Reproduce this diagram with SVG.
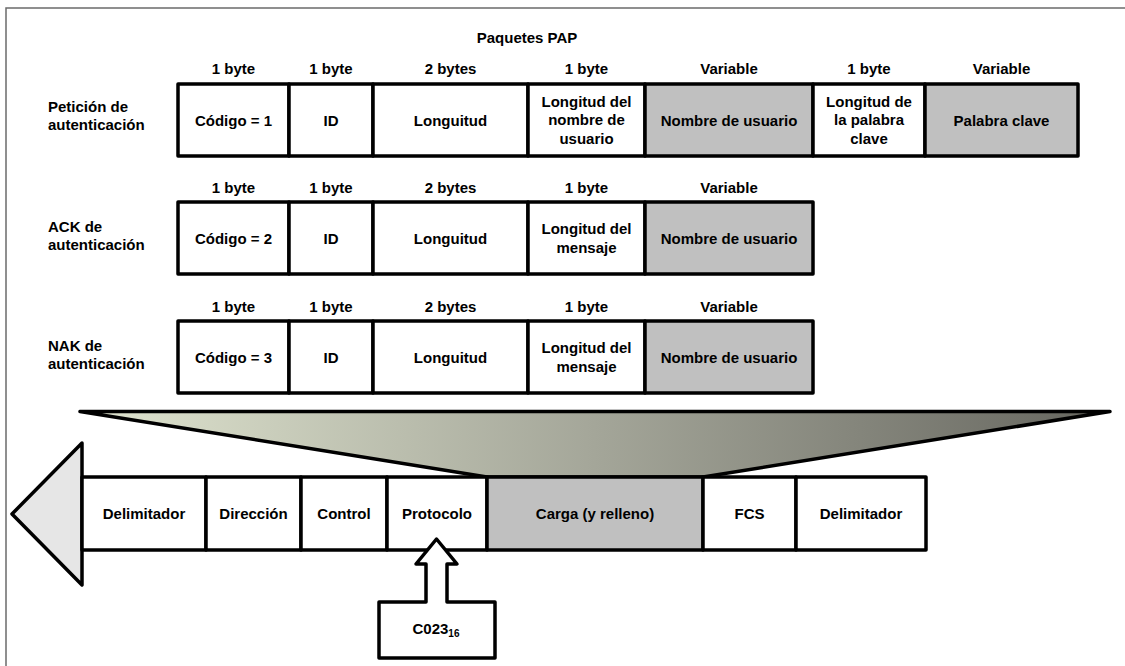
<svg xmlns="http://www.w3.org/2000/svg" width="1125" height="666" viewBox="0 0 1125 666">
  <defs>
    <linearGradient id="zoomFill" x1="80" y1="0" x2="1110" y2="0" gradientUnits="userSpaceOnUse">
      <stop offset="0" stop-color="#e0e5d0"/>
      <stop offset="0.5" stop-color="#a4a699"/>
      <stop offset="1" stop-color="#66665f"/>
    </linearGradient>
    <style>
      .t { font-family: "Liberation Sans", Arial, sans-serif; font-weight: bold; font-size: 15px; fill: #000; text-anchor: middle; }
      .lbl { text-anchor: start; }
      .c { fill: #fff; stroke: #000; stroke-width: 3.5; stroke-linejoin: round; }
      .g { fill: #c0c0c0; stroke: #000; stroke-width: 3.5; stroke-linejoin: round; }
      .frame { fill: none; stroke: #6b6b6b; stroke-width: 1.5; }
    </style>
  </defs>

  <rect width="1125" height="666" fill="#fff"/>
  <!-- outer frame (top and left edges) -->
  <path class="frame" d="M6,666 V8 H1125"/>

  <text class="t" x="527" y="43">Paquetes PAP</text>

  <!-- PAP authentication request -->
  <g id="pap-request">
    <text class="t lbl" x="48" y="112">Petición de</text>
    <text class="t lbl" x="48" y="130">autenticación</text>
    <g class="t">
      <text x="233.5" y="74">1 byte</text>
      <text x="331" y="74">1 byte</text>
      <text x="450.5" y="74">2 bytes</text>
      <text x="586.5" y="74">1 byte</text>
      <text x="729" y="74">Variable</text>
      <text x="869" y="74">1 byte</text>
      <text x="1001.5" y="74">Variable</text>
    </g>
    <rect class="c" x="178" y="84" width="111" height="72"/>
    <rect class="c" x="289" y="84" width="84" height="72"/>
    <rect class="c" x="373" y="84" width="155" height="72"/>
    <rect class="c" x="528" y="84" width="117" height="72"/>
    <rect class="g" x="645" y="84" width="168" height="72"/>
    <rect class="c" x="813" y="84" width="112" height="72"/>
    <rect class="g" x="925" y="84" width="153" height="72"/>
    <g class="t">
      <text x="233.5" y="125.5">Código = 1</text>
      <text x="331" y="125.5">ID</text>
      <text x="450.5" y="125.5">Longuitud</text>
      <text x="586.5" y="106.5">Longitud del</text>
      <text x="586.5" y="125">nombre de</text>
      <text x="586.5" y="143.5">usuario</text>
      <text x="729" y="125.5">Nombre de usuario</text>
      <text x="869" y="106.5">Longitud de</text>
      <text x="869" y="125">la palabra</text>
      <text x="869" y="143.5">clave</text>
      <text x="1001.5" y="125.5">Palabra clave</text>
    </g>
  </g>

  <!-- PAP authentication ACK -->
  <g id="pap-ack">
    <text class="t lbl" x="48" y="232">ACK de</text>
    <text class="t lbl" x="48" y="250">autenticación</text>
    <g class="t">
      <text x="233.5" y="193">1 byte</text>
      <text x="331" y="193">1 byte</text>
      <text x="450.5" y="193">2 bytes</text>
      <text x="586.5" y="193">1 byte</text>
      <text x="729" y="193">Variable</text>
    </g>
    <rect class="c" x="178" y="202" width="111" height="72"/>
    <rect class="c" x="289" y="202" width="84" height="72"/>
    <rect class="c" x="373" y="202" width="155" height="72"/>
    <rect class="c" x="528" y="202" width="117" height="72"/>
    <rect class="g" x="645" y="202" width="168" height="72"/>
    <g class="t">
      <text x="233.5" y="243.5">Código = 2</text>
      <text x="331" y="243.5">ID</text>
      <text x="450.5" y="243.5">Longuitud</text>
      <text x="586.5" y="234">Longitud del</text>
      <text x="586.5" y="253">mensaje</text>
      <text x="729" y="243.5">Nombre de usuario</text>
    </g>
  </g>

  <!-- PAP authentication NAK -->
  <g id="pap-nak">
    <text class="t lbl" x="48" y="351">NAK de</text>
    <text class="t lbl" x="48" y="369">autenticación</text>
    <g class="t">
      <text x="233.5" y="312">1 byte</text>
      <text x="331" y="312">1 byte</text>
      <text x="450.5" y="312">2 bytes</text>
      <text x="586.5" y="312">1 byte</text>
      <text x="729" y="312">Variable</text>
    </g>
    <rect class="c" x="178" y="321" width="111" height="72"/>
    <rect class="c" x="289" y="321" width="84" height="72"/>
    <rect class="c" x="373" y="321" width="155" height="72"/>
    <rect class="c" x="528" y="321" width="117" height="72"/>
    <rect class="g" x="645" y="321" width="168" height="72"/>
    <g class="t">
      <text x="233.5" y="362.5">Código = 3</text>
      <text x="331" y="362.5">ID</text>
      <text x="450.5" y="362.5">Longuitud</text>
      <text x="586.5" y="353">Longitud del</text>
      <text x="586.5" y="372">mensaje</text>
      <text x="729" y="362.5">Nombre de usuario</text>
    </g>
  </g>

  <!-- connectors: payload expansion wedge -->
  <g id="connectors">
    <polygon points="80,411.5 1110,411.5 703,477 487,477" fill="url(#zoomFill)" stroke="#000" stroke-width="3.5" stroke-linejoin="round"/>
  </g>

  <!-- PPP frame drawn as a left-pointing arrow -->
  <g id="ppp-frame">
    <polygon class="c" points="82,443 12,514 82,585" style="fill:#e6e6e6"/>
    <rect class="c" x="82" y="477" width="124" height="73"/>
    <rect class="c" x="206" y="477" width="95" height="73"/>
    <rect class="c" x="301" y="477" width="86" height="73"/>
    <rect class="c" x="387" y="477" width="100" height="73"/>
    <rect class="g" x="487" y="477" width="216" height="73"/>
    <rect class="c" x="703" y="477" width="93" height="73"/>
    <rect class="c" x="796" y="477" width="130" height="73"/>
    <g class="t">
      <text x="144" y="518.5">Delimitador</text>
      <text x="253.5" y="518.5">Dirección</text>
      <text x="344" y="518.5">Control</text>
      <text x="437" y="518.5">Protocolo</text>
      <text x="595" y="518.5">Carga (y relleno)</text>
      <text x="749.5" y="518.5">FCS</text>
      <text x="861" y="518.5">Delimitador</text>
    </g>
  </g>

  <!-- protocol value callout -->
  <g id="protocol-value">
    <path class="c" d="M379,602 H426 V564 H416 L436.5,539 L457,564 H447 V602 H495 V658 H379 Z"/>
    <text class="t" x="436" y="634">C023<tspan font-size="10" dy="3">16</tspan></text>
  </g>
</svg>
